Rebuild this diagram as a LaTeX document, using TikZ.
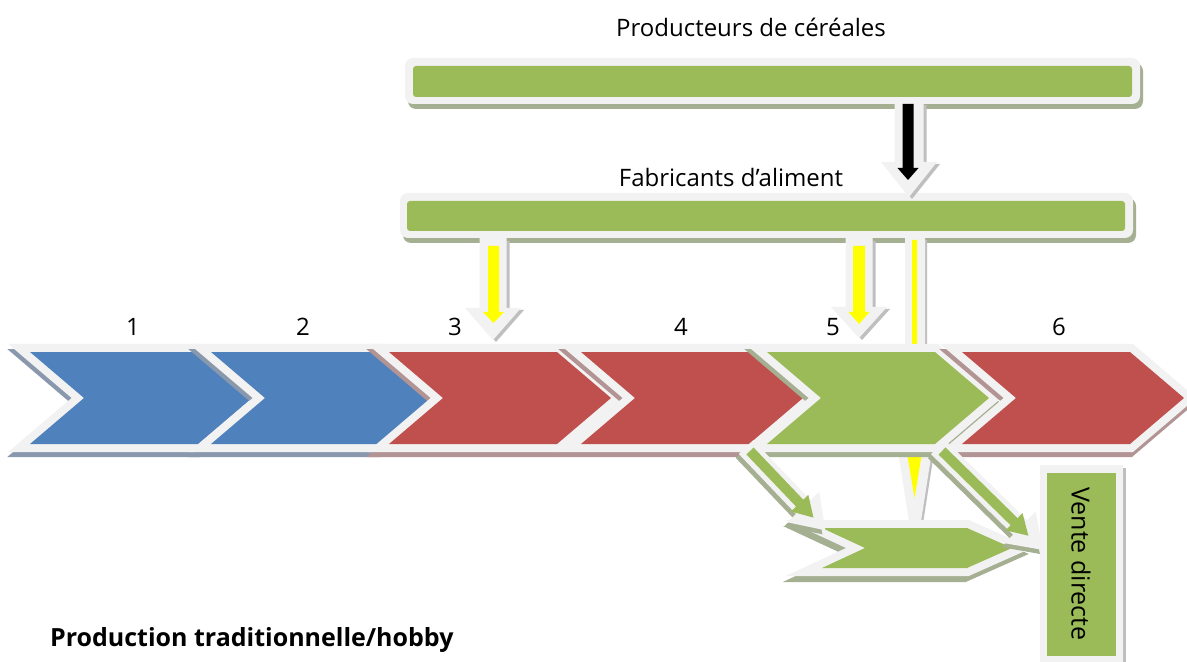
\documentclass[tikz,border=0pt]{standalone}
\usepackage{fontspec}
\setmainfont{Open Sans}
\usetikzlibrary{positioning}
\definecolor{bluestep}{HTML}{4F81BD}
\definecolor{redstep}{HTML}{C0504D}
\definecolor{greenstep}{HTML}{9BBB59}
\definecolor{rim}{HTML}{F2F2F2}
\definecolor{shblue}{HTML}{8A98AE}
\definecolor{shred}{HTML}{B39494}
\definecolor{shgreen}{HTML}{A5AF91}
\definecolor{shgray}{HTML}{BFBFBF}
\definecolor{flow}{HTML}{FFFF00}
\newcommand\stepchev[3]{%
  \filldraw[#3,line width=8pt,shift={(-1,5)}](#1,352)--(#1+168,352)--(#1+222,398)--(#1+168,444)--(#1,444)--(#1+54,398)--cycle;
  \filldraw[rim,line width=8pt](#1,352)--(#1+168,352)--(#1+222,398)--(#1+168,444)--(#1,444)--(#1+54,398)--cycle;
  \fill[#2](#1,352)--(#1+168,352)--(#1+222,398)--(#1+168,444)--(#1,444)--(#1+54,398)--cycle;}
\newcommand\blockarr[7]{\fill[#7,shift={#1},rotate=#2](0,-#4)--(#3-#6,-#4)--(#3-#6,-#5)--(#3,0)--(#3-#6,#5)--(#3-#6,#4)--(0,#4)--cycle;}

\begin{document}
\begin{tikzpicture}[x=0.5pt, y=-0.5pt, font=\fontsize{12}{14}\selectfont]
    \useasboundingbox(0,0)rectangle(1187,662);\fill[white](0,0)rectangle(1187,662);
    \fill[shgreen,rounded corners=4pt](408,63)rectangle(1143,109);\fill[rim,rounded corners=4pt](405,58)rectangle(1140,104);
    \fill[greenstep,rounded corners=1.5pt](413,66)rectangle(1132,97);
    \fill[shgreen,rounded corners=4pt](403,198)rectangle(1136,243);\fill[rim,rounded corners=4pt](400,193)rectangle(1133,238);
    \fill[greenstep,rounded corners=1.5pt](407,201)rectangle(1125,231);
    \node(prod)at(751,27){Producteurs de céréales};
    \node(fab)at(731,178){Fabricants d’aliment};
    \blockarr{(912,105)}{-90}{94}{14.5}{28}{35}{shgray}\blockarr{(909,103)}{-90}{94}{14.5}{28}{35}{rim}
    \blockarr{(908,104)}{-90}{76}{5.5}{10.5}{12}{black}
    \blockarr{(917,240)}{-90}{322}{10}{21}{135}{shgray}\blockarr{(915,238)}{-90}{322}{10}{21}{135}{rim}
    \blockarr{(914.5,240)}{-90}{258}{2.5}{10}{60}{flow}
    \blockarr{(496,241)}{-90}{101}{13.5}{28}{32}{shgray}\blockarr{(493,238)}{-90}{102}{13.5}{28}{32}{rim}
    \blockarr{(493.5,246)}{-90}{77}{5.5}{10.5}{11}{flow}
    \blockarr{(862,241)}{-90}{99}{13.5}{28}{31}{shgray}\blockarr{(859,238)}{-90}{100}{13.5}{28}{31}{rim}
    \blockarr{(859,246)}{-90}{78}{6}{10.5}{12}{flow}
    \stepchev{30}{bluestep}{shblue}\stepchev{211}{bluestep}{shblue}\stepchev{389}{redstep}{shred}
    \stepchev{581}{redstep}{shred}\stepchev{767}{greenstep}{shgreen}\stepchev{962}{redstep}{shred}
    \filldraw[shgreen,line width=8pt,shift={(-3,6)}](822,528)--(967,528)--(1012,548)--(967,568)--(822,568)--(865,548)--cycle;
    \filldraw[rim,line width=8pt](822,528)--(967,528)--(1012,548)--(967,568)--(822,568)--(865,548)--cycle;
    \fill[greenstep](822,528)--(967,528)--(1012,548)--(967,568)--(822,568)--(865,548)--cycle;
    \fill[shgray](1043,468)rectangle(1126,666);\fill[rim](1040,465)rectangle(1123,666);\fill[greenstep](1047,473)rectangle(1116,656);
    \node[rotate=-90,font=\fontsize{12.5}{14}\selectfont](vente)at(1081,564){Vente directe};
    \blockarr{(743,451)}{-46.4}{115}{10}{22}{32}{shgreen}\blockarr{(746,447)}{-46.4}{115}{10}{22}{32}{rim}
    \blockarr{(750,451)}{-46.4}{92}{5}{12}{20}{greenstep}
    \blockarr{(935,451)}{-44.45}{147}{10}{22}{32}{shgreen}\blockarr{(938,447)}{-44.45}{147}{10}{22}{32}{rim}
    \blockarr{(942,451)}{-44.45}{121}{5}{12}{20}{greenstep}
    \node(l1)at(133,327){1};\node(l2)at(303,327){2};\node(l3)at(455,327){3};
    \node(l4)at(681,327){4};\node(l5)at(833,327){5};\node(l6)at(1059,327){6};
    \node[anchor=west,font=\fontsize{12.5}{14}\selectfont\bfseries](hobby)at(43,640){Production traditionnelle/hobby};
  \end{tikzpicture}
\end{document}
